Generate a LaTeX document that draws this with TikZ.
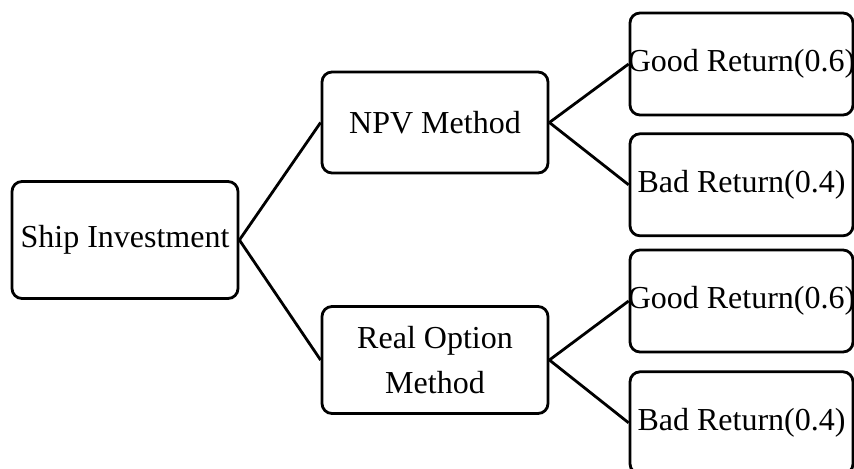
\documentclass[tikz,border=0pt]{standalone}
\usepackage{fontspec}
\setmainfont{Liberation Serif}
\usetikzlibrary{positioning,calc}
\tikzset{
  decisionbox/.style={draw,line width=1.4pt,rounded corners=5pt,
    minimum width=113pt,inner sep=0pt,align=center,
    font=\fontsize{16}{22.5}\selectfont},
  outcome/.style={decisionbox,minimum width=111.5pt,minimum height=51pt},
  branch/.style={line width=1.4pt}
}
\newcommand{\fitlabel}[1]{\makebox[111.5pt]{#1}}

\begin{document}
\begin{tikzpicture}
  \clip (0,0) rectangle (427pt,-234pt);
  \node[decisionbox,minimum height=58.5pt] (ship) at (62.5pt,-120pt) {Ship Investment};
  \node[decisionbox,minimum height=50.5pt] (npv) at ($(ship.center)+(155pt,58.75pt)$) {NPV Method};
  \node[decisionbox,minimum height=53.5pt] (real) at ($(ship.center)+(155pt,-60pt)$) {Real Option\\Method};
  \node[outcome] (npvgood) at ($(npv.center)+(153.25pt,29.25pt)$) {\fitlabel{Good Return(0.6)}};
  \node[outcome,below=8pt of npvgood] (npvbad) {\fitlabel{Bad Return(0.4)}};
  \node[outcome] (realgood) at ($(real.center)+(153.25pt,29.5pt)$) {\fitlabel{Good Return(0.6)}};
  \node[outcome,below=8.5pt of realgood] (realbad) {\fitlabel{Bad Return(0.4)}};
  \draw[branch] (ship.east) -- (npv.west);
  \draw[branch] (ship.east) -- (real.west);
  \draw[branch] (npv.east) -- (npvgood.west);
  \draw[branch] (npv.east) -- (npvbad.west);
  \draw[branch] (real.east) -- (realgood.west);
  \draw[branch] (real.east) -- (realbad.west);
\end{tikzpicture}
\end{document}
